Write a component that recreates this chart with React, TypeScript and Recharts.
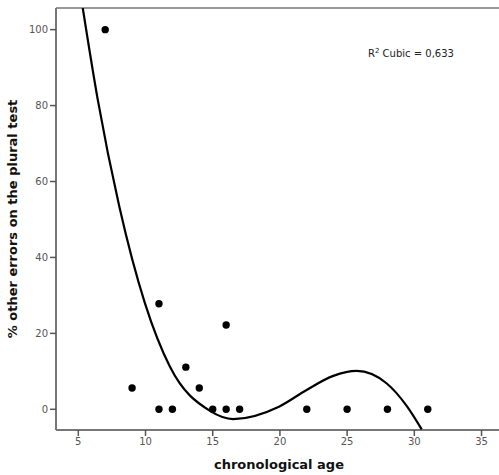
import React from "react";
import { ComposedChart, Scatter, XAxis, YAxis, ReferenceLine, Customized } from "recharts";

const ages = [7, 9, 11, 11, 12, 13, 14, 15, 16, 16, 17, 22, 25, 28, 31];
const errors = [100, 5.6, 27.8, 0, 0, 11.1, 5.6, 0, 22.2, 0, 0, 0, 0, 0, 0];

// cubic fit curve
const curveX = [5.33, 6.45, 8.05, 9.96, 11.82, 14.8, 16.53, 19.93, 21.99, 23.97, 25.71, 27.95, 29.43, 30.55];
const curveY = [105.7, 81.5, 53.4, 27.9, 11.2, -0.4, -2.56, 0.7, 5.1, 8.8, 10.1, 6.8, 0.9, -5.3];

const xTicks = [5, 10, 15, 20, 25, 30, 35];
const yTicks = [0, 20, 40, 60, 80, 100];
const xDomain = [3.34, 36.3];
const yDomain = [-5.45, 105.7];

const points = ages.map((a, i) => ({ x: a, y: errors[i] }));
const curve = curveX.map((a, i) => ({ x: a, y: curveY[i] }));

const FONT = "'DejaVu Sans', Verdana, sans-serif";

const Texts = () => (
  <g fontFamily={FONT}>
    <text x={279} y={469} textAnchor="middle" fontSize={13} fontWeight="bold" fill="#111">
      chronological age
    </text>
    <text
      x={17}
      y={219}
      transform="rotate(-90 17 219)"
      textAnchor="middle"
      fontSize={13}
      fontWeight="bold"
      fill="#111"
    >
      % other errors on the plural test
    </text>
    <text x={368} y={57} fontSize={10} fill="#222">
      R<tspan fontSize={7} dy={-4}>2</tspan>
      <tspan dy={4}> Cubic = 0,633</tspan>
    </text>
  </g>
);

const Dot = (props: any) => {
  const { cx, cy } = props;
  if (cx == null || cy == null) return <g />;
  return <circle cx={cx} cy={cy} r={3.7} fill="#000" />;
};

export default function App() {
  return (
    <div style={{ position: "absolute", left: 0, top: 0, background: "#fff" }}>
      <ComposedChart
        width={499}
        height={475}
        margin={{ top: 8, right: 0, bottom: 0, left: 0 }}
      >
        <XAxis
          type="number"
          dataKey="x"
          domain={xDomain}
          ticks={xTicks}
          allowDataOverflow
          height={45}
          axisLine={{ stroke: "#777", strokeWidth: 2 }}
          tickLine={{ stroke: "#555", strokeWidth: 1.5 }}
          tickSize={6}
          tick={{ fontSize: 10, fill: "#555", fontFamily: FONT }}
        />
        <YAxis
          type="number"
          dataKey="y"
          domain={yDomain}
          ticks={yTicks}
          allowDataOverflow
          width={56}
          axisLine={{ stroke: "#777", strokeWidth: 2 }}
          tickLine={{ stroke: "#555", strokeWidth: 1.5 }}
          tickSize={6}
          tick={{ fontSize: 10, fill: "#555", fontFamily: FONT }}
        />
        <ReferenceLine y={105.7} stroke="#999" strokeWidth={2} ifOverflow="visible" />
        <Scatter
          data={curve}
          line={{ stroke: "#000", strokeWidth: 2.2 }}
          lineJointType="monotoneX"
          shape={() => <g />}
          isAnimationActive={false}
        />
        <Scatter data={points} shape={Dot} fill="#000" isAnimationActive={false} />
        <Customized component={Texts} />
      </ComposedChart>
    </div>
  );
}
